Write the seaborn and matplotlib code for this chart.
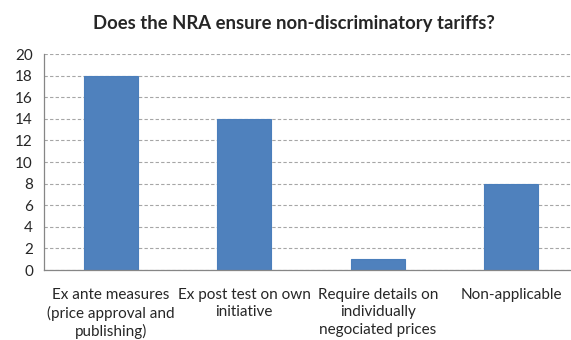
import matplotlib
matplotlib.use("Agg")
import matplotlib.pyplot as plt
import seaborn as sns
import pandas as pd

categories = ["Ex ante measures\n(price approval and\npublishing)",
              "Ex post test on own\ninitiative",
              "Require details on\nindividually\nnegociated prices",
              "Non-applicable"]
values = [18, 14, 1, 8]
yticks = [0, 2, 4, 6, 8, 10, 12, 14, 16, 18, 20]
title = "Does the NRA ensure non-discriminatory tariffs?"

sns.set_style("white")
plt.rcParams['font.family'] = ['Lato', 'DejaVu Sans']

df = pd.DataFrame({"cat": categories, "val": values})

fig = plt.figure(figsize=(5.71, 3.40), dpi=100)
ax = fig.add_axes([44/571, 70/340, (578-44)/571, (270-54)/340])
sns.barplot(data=df, x="cat", y="val", ax=ax, color="#4F81BD", width=0.405,
            edgecolor="#4A7EBB", linewidth=0.8, saturation=1)
ax.set_ylim(0, 20)
ax.set_xlim(-0.5, len(categories) - 0.5)
ax.set_yticks(yticks)
ax.set_yticklabels([str(t) for t in yticks], fontsize=11)
ax.set_xlabel("")
ax.set_ylabel("")
ax.yaxis.grid(True, color="#A6A6A6", linestyle=(0, (3, 2)), linewidth=0.8)
ax.set_axisbelow(True)
for s in ["top", "right"]:
    ax.spines[s].set_visible(False)
for s in ["left", "bottom"]:
    ax.spines[s].set_color("#868686")
    ax.spines[s].set_linewidth(0.9)

# category labels centered, tick marks at boundaries
ax.set_xticks(range(len(categories)))
ax.set_xticklabels(categories, fontsize=11, linespacing=1.3)
ax.tick_params(axis="x", length=0, pad=13)
ax.set_xticks([i - 0.5 for i in range(len(categories) + 1)], minor=True)
ax.tick_params(axis="x", which="minor", length=5, color="#868686", width=0.9)
ax.tick_params(axis="y", length=5, color="#868686", width=0.9, pad=3)
for lab in ax.get_xticklabels():
    lab.set_verticalalignment("top")

fig.text(294/571, 1 - 23/340, title, ha="center", va="center",
         fontsize=13.3, fontweight="bold")

fig.savefig("out.png", dpi=100)
